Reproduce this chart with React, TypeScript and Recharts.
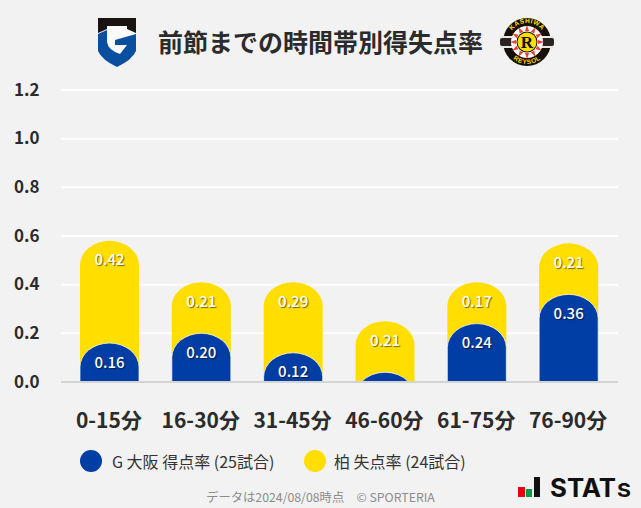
import React from "react";
import { BarChart, Bar, XAxis, YAxis, CartesianGrid, LabelList } from "recharts";

const categories = ["0-15分", "16-30分", "31-45分", "46-60分", "61-75分", "76-90分"];
const gambaRates = [0.16, 0.2, 0.12, 0.04, 0.24, 0.36];
const kashiwaRates = [0.42, 0.21, 0.29, 0.21, 0.17, 0.21];
const yTicks = [0, 0.2, 0.4, 0.6, 0.8, 1.0, 1.2];
const titleText = "前節までの時間帯別得失点率";
const gambaLegend = "G 大阪 得点率 (25試合)";
const kashiwaLegend = "柏 失点率 (24試合)";
const footerText = "データは2024/08/08時点　© SPORTERIA";

const rows = categories.map((c, i) => ({
  name: c,
  gamba: gambaRates[i],
  kashiwa: kashiwaRates[i],
  total: gambaRates[i] + kashiwaRates[i],
}));

const FONT = '"Noto Sans CJK JP", "Noto Sans", sans-serif';
const BLUE = "#003DA5";
const YELLOW = "#FFDE00";
const INK = "#2b2b2b";

function domePath(x: number, y: number, w: number, h: number) {
  const rx = w / 2;
  const ry = 24;
  const base = y + h;
  if (h >= ry) {
    return `M${x},${base} L${x},${y + ry} A${rx},${ry} 0 0 1 ${x + w},${y + ry} L${x + w},${base} Z`;
  }
  const t = Math.sqrt(1 - ((ry - h) / ry) ** 2);
  const x0 = x + rx - rx * t;
  const x1 = x + rx + rx * t;
  return `M${x0},${base} A${rx},${ry} 0 0 1 ${x1},${base} Z`;
}

const Dome = (props: any) => {
  const { x, y, width, height, fill, stroke } = props;
  return <path d={domePath(x, y, width, height)} fill={fill} stroke={stroke} strokeOpacity={0.7} strokeWidth={stroke ? 1 : 0} />;
};

const RateLabel = (props: any) => {
  const { x, width, y, value } = props;
  if (value < 0.1) return null;
  return (
    <text
      x={x + width / 2}
      y={y + 18}
      textAnchor="middle"
      dominantBaseline="central"
      fill="#fff"
      fontSize={15}
      fontWeight={500}
      fontFamily={FONT}
      style={{ textShadow: "1px 1px 1px rgba(0,0,0,0.55)" }}
    >
      {value.toFixed(2)}
    </text>
  );
};

const GambaLogo = () => (
  <svg width={38} height={49} viewBox="0 0 38 49" style={{ position: "absolute", left: 98, top: 18 }}>
    <path d="M0,16 L9,12 H29 L38,16 V33 Q34,42 19,49 Q4,42 0,33 Z" fill="#0a4ea0" />
    <path d="M9,8 H29 V11 L38,15 V16 L17,22 V27 L29,27 L22,36 Q10,32 9,24 Z" fill="#fafafa" />
    <path d="M0,0 H38 V15 L29,11 V8 H9 V11 L0,15 Z" fill="#1a1311" />
  </svg>
);

const rayAngles = [0, 30, 60, 90, 120, 150, 180, 210, 240, 270, 300, 330];

const KashiwaLogo = () => (
  <svg width={56} height={50} viewBox="0 0 56 50" style={{ position: "absolute", left: 499, top: 17 }}>
    <defs>
      <path id="kw-top" d="M9,25 A19,19 0 0 1 47,25" />
      <path id="kw-bot" d="M6,25 A22,22 0 0 0 50,25" />
    </defs>
    <circle cx={28} cy={25} r={24} fill="#15100c" />
    <rect x={1} y={19} width={54} height={3} fill="#e8e8e8" />
    <rect x={1} y={28} width={54} height={3} fill="#e8e8e8" />
    <rect x={1} y={21} width={54} height={8} rx={2} fill="#2a2420" />
    <circle cx={28} cy={25} r={16} fill="#fafafa" />
    {rayAngles.map((a) => (
      <path key={a} d="M26,14 L28,8 L30,14 Z" fill="#e8452c" transform={`rotate(${a} 28 25)`} />
    ))}
    <circle cx={28} cy={25} r={10.5} fill="#15100c" />
    <circle cx={28} cy={25} r={9.5} fill="#FFDE00" />
    <text x={28} y={31} textAnchor="middle" fontSize={17} fontWeight={700} fontFamily="Liberation Serif" fill="#15100c">R</text>
    <text fontSize={6.5} fontWeight={700} fontFamily="Liberation Sans" fill="#FFDE00" letterSpacing={0.6}>
      <textPath href="#kw-top" startOffset="50%" textAnchor="middle">KASHIWA</textPath>
    </text>
    <text fontSize={6.5} fontWeight={700} fontFamily="Liberation Sans" fill="#FFDE00" letterSpacing={0.6}>
      <textPath href="#kw-bot" startOffset="50%" textAnchor="middle">REYSOL</textPath>
    </text>
  </svg>
);

const StatsLogo = () => (
  <svg width={123} height={40} viewBox="0 0 123 40" style={{ position: "absolute", left: 515, top: 465 }}>
    <rect x={3} y={22} width={7} height={10} fill="#e60012" />
    <rect x={11} y={24} width={6} height={8} fill="#0a9b4a" />
    <rect x={19} y={12} width={6} height={20} fill="#111" />
    <text x={35} y={32} fontSize={25} fontWeight={700} fontFamily="Inter, sans-serif" fill="#111" textLength={66} lengthAdjust="spacingAndGlyphs">STAT</text>
    <text x={102} y={32} fontSize={19} fontWeight={700} fontFamily="Inter, sans-serif" fill="#111" textLength={14} lengthAdjust="spacingAndGlyphs">S</text>
  </svg>
);

const dot = (color: string, left: number) => (
  <div style={{ position: "absolute", left, top: 450, width: 22, height: 22, borderRadius: "50%", background: color }} />
);

const label = (text: string, left: number) => (
  <div style={{ position: "absolute", left, top: 449, fontSize: 16, lineHeight: "24px", color: "#333", whiteSpace: "nowrap" }}>{text}</div>
);

export default function App() {
  return (
    <div style={{ position: "absolute", left: 0, top: 0, width: 641, height: 508, background: "#F2F2F2", fontFamily: FONT, overflow: "hidden" }}>
      <div style={{ position: "absolute", left: 0, width: 641, top: 22, textAlign: "center", fontSize: 25, fontWeight: 700, lineHeight: "38px", color: INK }}>
        {titleText}
      </div>
      <GambaLogo />
      <KashiwaLogo />
      <div style={{ position: "absolute", left: 0, top: 0 }}>
        <BarChart
          width={641}
          height={445}
          data={rows}
          margin={{ top: 90, right: 23, bottom: 0, left: 0 }}
          barSize={59}
          barGap={-59}
        >
          <CartesianGrid horizontal vertical={false} stroke="#fff" strokeWidth={2} />
          <XAxis
            dataKey="name"
            padding={{ left: 3, right: 3 }}
            axisLine={{ stroke: "#d4d4d4", strokeWidth: 2 }}
            tickLine={false}
            interval={0}
            tick={{ fontSize: 21, fontWeight: 700, fill: INK, fontFamily: FONT, dx: -1 }}
            tickMargin={25}
            height={63}
          />
          <YAxis
            domain={[0, 1.2]}
            ticks={yTicks}
            width={61}
            axisLine={false}
            tickLine={false}
            tick={(p: any) => (
              <text x={14} y={p.y - 2} dominantBaseline="central" fontSize={17} fontWeight={700} fill={INK} fontFamily={FONT}>
                {Number(p.payload.value).toFixed(1)}
              </text>
            )}
          />
          <Bar dataKey="total" fill={YELLOW} isAnimationActive={false} shape={<Dome />}>
            <LabelList dataKey="kashiwa" content={<RateLabel />} />
          </Bar>
          <Bar dataKey="gamba" fill={BLUE} stroke="#fff" isAnimationActive={false} shape={<Dome />}>
            <LabelList dataKey="gamba" content={<RateLabel />} />
          </Bar>
        </BarChart>
      </div>
      {dot(BLUE, 80)}
      {label(gambaLegend, 112)}
      {dot(YELLOW, 304)}
      {label(kashiwaLegend, 334)}
      <div style={{ position: "absolute", left: 0, width: 641, top: 488, textAlign: "center", fontSize: 12.3, lineHeight: "18px", color: "#8c8c8c" }}>
        {footerText}
      </div>
      <StatsLogo />
    </div>
  );
}
